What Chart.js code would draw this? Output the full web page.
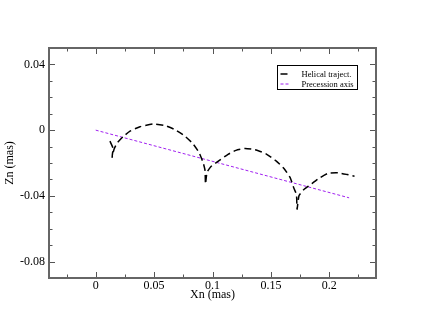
<!DOCTYPE html>
<html>
<head>
<meta charset="utf-8">
<title>Helical trajectory</title>
<script src="https://cdn.jsdelivr.net/npm/chart.js@4.4.0/dist/chart.umd.min.js"></script>
<style>
  html, body { margin: 0; padding: 0; background: #fff; }
  canvas { display: block; }
</style>
</head>
<body>
<canvas id="helix" width="423" height="327"></canvas>
<script>
(function () {
    "use strict";

    // Data (mas)
    var HELIX_X = [0.0122, 0.0148, 0.0140, 0.0157, 0.0182, 0.0234, 0.0294, 0.0379, 0.0491, 0.0593, 0.0679,
                   0.0765, 0.0833, 0.0884, 0.0919, 0.0936, 0.0940, 0.0953, 0.0987, 0.1047, 0.1133, 0.1201,
                   0.1278, 0.1364, 0.1458, 0.1544, 0.1612, 0.1664, 0.1698, 0.1719, 0.1724, 0.1741, 0.1783,
                   0.1835, 0.1903, 0.1989, 0.2075, 0.2152, 0.2216];
    var HELIX_Y = [-0.0067, -0.0110, -0.0165, -0.0116, -0.0080, -0.0040, -0.0006, 0.0021, 0.0037, 0.0028, 0.0003,
                   -0.0037, -0.0083, -0.0135, -0.0196, -0.0245, -0.0328, -0.0257, -0.0221, -0.0190, -0.0147, -0.0123,
                   -0.0112, -0.0119, -0.0144, -0.0187, -0.0233, -0.0288, -0.0355, -0.0392, -0.0481, -0.0398, -0.0361,
                   -0.0334, -0.0297, -0.0263, -0.0260, -0.0270, -0.0280];
    var AXIS_X = [0, 0.217];
    var AXIS_Y = [0, -0.0412];

    var X_MAJOR = [0, 0.05, 0.1, 0.15, 0.2];
    var X_LABELS = ["0", "0.05", "0.1", "0.15", "0.2"];
    var X_MINOR = [-0.025, 0.025, 0.075, 0.125, 0.175, 0.225];
    var Y_MAJOR = [0.04, 0, -0.04, -0.08];
    var Y_LABELS = ["0.04", "0", "-0.04", "-0.08"];
    var Y_MINOR = [0.03, 0.02, 0.01, -0.01, -0.02, -0.03, -0.05, -0.06, -0.07, -0.09];

    var SERIF = "'Liberation Serif', 'DejaVu Serif', serif";

    function points(xs, ys) {
        return xs.map(function (x, i) { return {x: x, y: ys[i]}; });
    }

    function tickList(values) {
        return function (scale) {
            scale.ticks = values.map(function (v) { return {value: v}; });
        };
    }


    // Frame with inward ticks on all four sides
    var frameTicks = {
        id: "frameTicks",
        afterDraw: function (chart) {
            var ctx = chart.ctx, a = chart.chartArea;
            var xs = chart.scales.x, ys = chart.scales.y;
            ctx.save();
            ctx.strokeStyle = "#555";
            ctx.lineWidth = 1;
            ctx.beginPath();
            function xt(v, len) {
                var p = Math.round(xs.getPixelForValue(v)) + 0.5;
                ctx.moveTo(p, a.bottom); ctx.lineTo(p, a.bottom - len);
                ctx.moveTo(p, a.top); ctx.lineTo(p, a.top + len);
            }
            function yt(v, len) {
                var p = Math.round(ys.getPixelForValue(v)) + 0.5;
                ctx.moveTo(a.left, p); ctx.lineTo(a.left + len, p);
                ctx.moveTo(a.right, p); ctx.lineTo(a.right - len, p);
            }
            X_MAJOR.forEach(function (v) { xt(v, 6); });
            X_MINOR.forEach(function (v) { xt(v, 3.5); });
            Y_MAJOR.forEach(function (v) { yt(v, 6); });
            Y_MINOR.forEach(function (v) { yt(v, 3.5); });
            ctx.stroke();
            ctx.strokeStyle = "#666";
            ctx.lineWidth = 2;
            ctx.strokeRect(a.left, a.top, a.right - a.left, a.bottom - a.top);
            ctx.restore();
        }
    };


    // Legend box inside the plot, top right
    var boxLegend = {
        id: "boxLegend",
        afterDraw: function (chart) {
            var ctx = chart.ctx;
            var bx = 277.5, by = 65.5, bw = 80, bh = 24;
            ctx.save();
            ctx.fillStyle = "#fff";
            ctx.fillRect(bx, by, bw, bh);
            ctx.strokeStyle = "#000";
            ctx.lineWidth = 1;
            ctx.strokeRect(bx, by, bw, bh);
            ctx.font = "8.5px " + SERIF;
            ctx.textBaseline = "middle";
            chart.data.datasets.forEach(function (ds, i) {
                var y = by + 8.5 + i * 10;
                ctx.strokeStyle = ds.borderColor;
                ctx.lineWidth = ds.borderWidth;
                ctx.setLineDash(ds.borderDash);
                ctx.beginPath();
                ctx.moveTo(bx + 3, y);
                ctx.lineTo(bx + 13, y);
                ctx.stroke();
                ctx.setLineDash([]);
                ctx.fillStyle = "#000";
                ctx.fillText(ds.label, bx + 24, y + 0.5);
            });
            ctx.restore();
        }
    };


    // Chart
    var ctx1 = document.getElementById("helix").getContext("2d");
    var myChart1 = new Chart(ctx1, {
        type: "scatter",
        data: {
            datasets: [{
                label: "Helical traject.",
                data: points(HELIX_X, HELIX_Y),
                showLine: true,
                borderColor: "#000",
                borderWidth: 1.5,
                borderDash: [7, 4],
                pointRadius: 0,
                tension: 0.15,
                fill: false
            },
            {
                label: "Precession axis",
                data: points(AXIS_X, AXIS_Y),
                showLine: true,
                borderColor: "#a020f0",
                borderWidth: 1,
                borderDash: [3, 2],
                pointRadius: 0,
                fill: false
            }]
        },
        options: {
            responsive: false,
            animation: false,
            layout: {padding: {left: 0, top: 48, right: 47, bottom: 0}},
            plugins: {legend: {display: false}, tooltip: {enabled: false}},
            scales: {
                x: {
                    type: "linear",
                    min: -0.04,
                    max: 0.24,
                    afterBuildTicks: tickList(X_MAJOR),
                    afterFit: function (s) { s.height = 49; },
                    grid: {display: false, drawTicks: false},
                    border: {display: false},
                    ticks: {
                        padding: 1,
                        color: "#000",
                        font: {family: SERIF, size: 12},
                        callback: function (v) { return X_LABELS[X_MAJOR.indexOf(v)]; }
                    },
                    title: {
                        display: true,
                        text: "Xn (mas)",
                        color: "#000",
                        font: {family: SERIF, size: 12},
                        padding: {top: 0, bottom: 25}
                    }
                },
                y: {
                    type: "linear",
                    min: -0.09,
                    max: 0.05,
                    afterBuildTicks: tickList(Y_MAJOR),
                    afterFit: function (s) { s.width = 49; },
                    grid: {display: false, drawTicks: false},
                    border: {display: false},
                    ticks: {
                        padding: 4,
                        color: "#000",
                        font: {family: SERIF, size: 12},
                        callback: function (v) { return Y_LABELS[Y_MAJOR.indexOf(v)]; }
                    },
                    title: {
                        display: true,
                        text: "Zn (mas)",
                        color: "#000",
                        font: {family: SERIF, size: 12},
                        padding: {top: 3, bottom: 0}
                    }
                }
            }
        },
        plugins: [frameTicks, boxLegend]
    });

})();
</script>
</body>
</html>
